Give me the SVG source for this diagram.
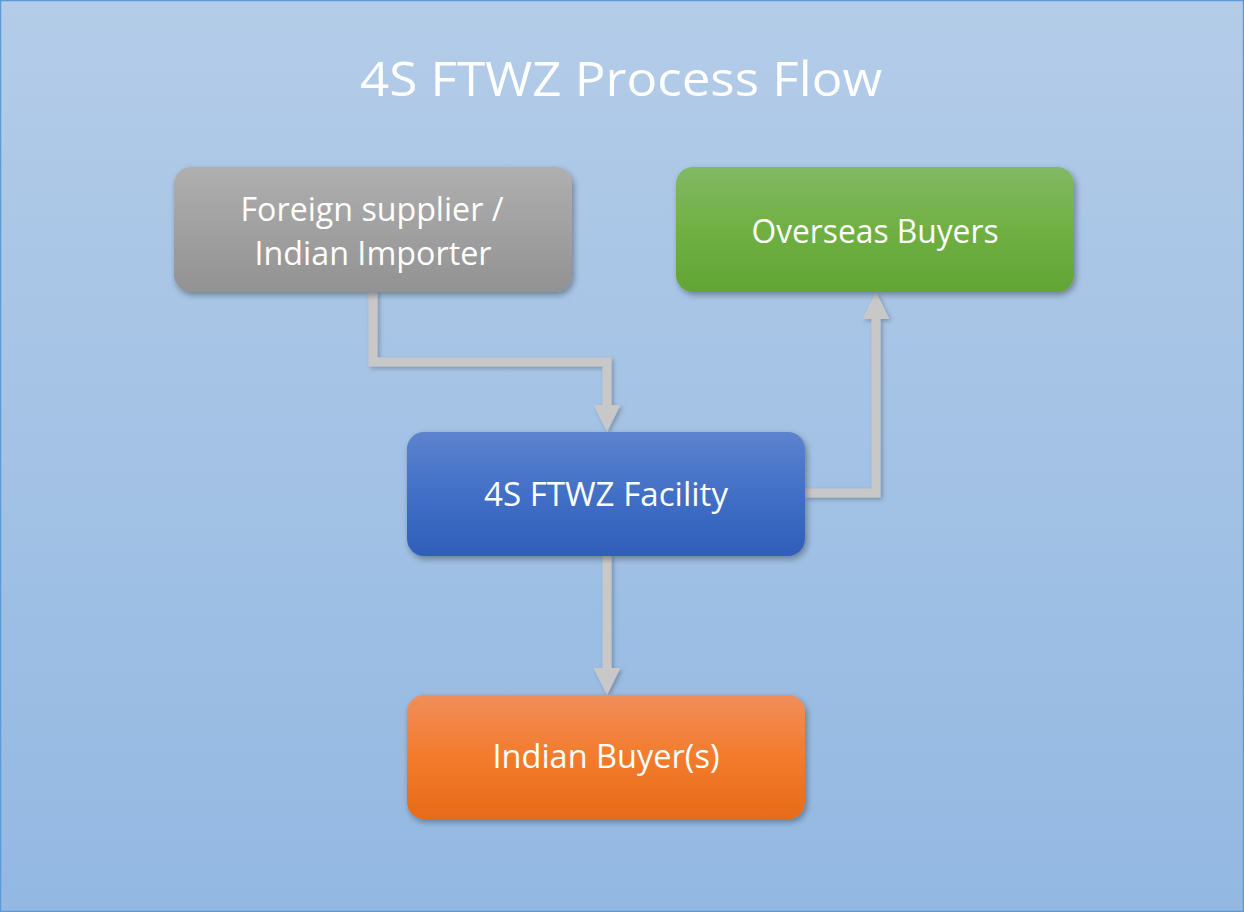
<svg xmlns="http://www.w3.org/2000/svg" width="1244" height="912" viewBox="0 0 1244 912">
  <defs>
    <linearGradient id="bg" x1="0" y1="0" x2="0" y2="1">
      <stop offset="0" stop-color="#b3cce8"/>
      <stop offset="1" stop-color="#93b8e2"/>
    </linearGradient>
    <linearGradient id="gGrey" x1="0" y1="0" x2="0" y2="1">
      <stop offset="0" stop-color="#afafaf"/>
      <stop offset="1" stop-color="#929292"/>
    </linearGradient>
    <linearGradient id="gGreen" x1="0" y1="0" x2="0" y2="1">
      <stop offset="0" stop-color="#82b964"/>
      <stop offset="0.5" stop-color="#70b043"/>
      <stop offset="1" stop-color="#62a535"/>
    </linearGradient>
    <linearGradient id="gBlue" x1="0" y1="0" x2="0" y2="1">
      <stop offset="0" stop-color="#5d83cd"/>
      <stop offset="0.5" stop-color="#426fc6"/>
      <stop offset="1" stop-color="#2e5eb9"/>
    </linearGradient>
    <linearGradient id="gOrange" x1="0" y1="0" x2="0" y2="1">
      <stop offset="0" stop-color="#f18e5a"/>
      <stop offset="0.5" stop-color="#f37b2c"/>
      <stop offset="1" stop-color="#e76b19"/>
    </linearGradient>
    <filter id="shadow" x="-10%" y="-20%" width="125%" height="150%">
      <feDropShadow dx="2" dy="3" stdDeviation="3" flood-color="#000" flood-opacity="0.35"/>
    </filter>
    <filter id="lshadow" x="-20%" y="-20%" width="140%" height="140%">
      <feDropShadow dx="2" dy="2" stdDeviation="2" flood-color="#000" flood-opacity="0.25"/>
    </filter>
    <marker id="arrow" viewBox="0 0 27 27" refX="0" refY="13.5" markerWidth="27" markerHeight="27" markerUnits="userSpaceOnUse" orient="auto">
      <path d="M0,0 L27,13.5 L0,27 z" fill="#c8c8c8"/>
    </marker>
    <style>
      .box { filter: url(#shadow); }
      .lbl { font-family: "Open Sans", "Liberation Sans", sans-serif; font-size: 32px; fill: #ffffff; text-anchor: middle; }
      .title { font-family: "Open Sans", "Liberation Sans", sans-serif; font-size: 47px; fill: #ffffff; text-anchor: middle; }
      .conn { fill: none; stroke: #c8c8c8; stroke-width: 9; stroke-linejoin: miter; stroke-linecap: butt; marker-end: url(#arrow); }
    </style>
  </defs>

  <rect x="0.5" y="0.5" width="1243" height="911" fill="url(#bg)" stroke="#5b9bd5" stroke-width="1.5"/>

  <text class="title" x="621" y="96" textLength="522" lengthAdjust="spacingAndGlyphs">4S FTWZ Process Flow</text>

  <g id="connectors" filter="url(#lshadow)">
    <polyline class="conn" points="373,292 373,362 607,362 607,405"/>
    <polyline class="conn" points="805,493 876,493 876,319"/>
    <polyline class="conn" points="607,556 607,668"/>
  </g>

  <g id="node-supplier">
    <rect class="box" x="174" y="167" width="398" height="125" rx="17" fill="url(#gGrey)"/>
    <text class="lbl" x="372" y="221" textLength="263" lengthAdjust="spacingAndGlyphs">Foreign supplier /</text>
    <text class="lbl" x="373" y="265" textLength="237" lengthAdjust="spacingAndGlyphs">Indian Importer</text>
  </g>

  <g id="node-overseas">
    <rect class="box" x="676" y="167" width="398" height="125" rx="17" fill="url(#gGreen)"/>
    <text class="lbl" x="875" y="243" textLength="247" lengthAdjust="spacingAndGlyphs">Overseas Buyers</text>
  </g>

  <g id="node-facility">
    <rect class="box" x="407" y="432" width="398" height="124" rx="17" fill="url(#gBlue)"/>
    <text class="lbl" x="606" y="506" textLength="244" lengthAdjust="spacingAndGlyphs">4S FTWZ Facility</text>
  </g>

  <g id="node-indian">
    <rect class="box" x="407" y="695" width="398" height="124" rx="17" fill="url(#gOrange)"/>
    <text class="lbl" x="606" y="768" textLength="227" lengthAdjust="spacingAndGlyphs">Indian Buyer(s)</text>
  </g>
</svg>
